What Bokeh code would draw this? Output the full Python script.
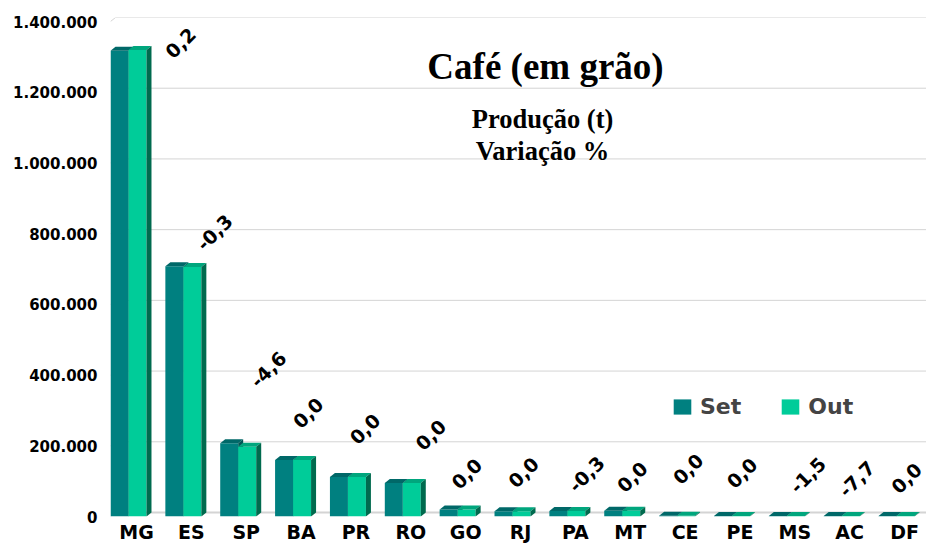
import math
from bokeh.plotting import figure
from bokeh.models import FixedTicker, Range1d, Label, Legend, LegendItem
from bokeh.embed import file_html
from bokeh.resources import INLINE
from bokeh.core.properties import value

# ---------------- data ----------------
states = ["MG", "ES", "SP", "BA", "PR", "RO", "GO", "RJ", "PA", "MT", "CE", "PE", "MS", "AC", "DF"]
set_vals = [1317000, 707500, 207000, 160000, 112000, 95000, 19500, 14500, 15500, 16000, 1800, 1500, 1300, 1600, 1200]
out_vals = [1319600, 705400, 197500, 160000, 112000, 95000, 19500, 14500, 15450, 16000, 1800, 1500, 1280, 1480, 1200]
var_labels = ["0,2", "-0,3", "-4,6", "0,0", "0,0", "0,0", "0,0", "0,0", "-0,3", "0,0", "0,0", "0,0", "-1,5", "-7,7", "0,0"]
y_ticks = [0, 200000, 400000, 600000, 800000, 1000000, 1200000, 1400000]
series_names = ["Set", "Out"]
title_text = "Café (em grão)"
subtitle_lines = ["Produção (t)", "Variação %"]

# ---------------- style / layout ----------------
W, H = 926, 546
B_LEFT, B_TOP, B_BOTTOM = 110, 17, 30
FRAME_W = W - B_LEFT
FRAME_H = H - B_TOP - B_BOTTOM
PITCH = 54.86                       # px per category
DEPTH_X, DEPTH_Y = 5, 4             # 3D depth in px
x_start = -26 / PITCH
x_end = x_start + FRAME_W / PITCH
y_per_px = y_ticks[-1] / (FRAME_H - DEPTH_Y)
y_end = FRAME_H * y_per_px
d = DEPTH_Y * y_per_px
dx = DEPTH_X / PITCH

SET_FRONT, SET_TOP, SET_SIDE = "#008080", "#006868", "#005656"
OUT_FRONT, OUT_TOP, OUT_SIDE = "#00CC99", "#00A67D", "#006A4E"
GRID = "#D4D4D4"
FONT = "DejaVu Sans"

# label offsets (px) relative to top of the taller bar
lab_dx = [44, 23, 22, 7, 9, 20, 1, 3, 11, 2, 3, 2, 13, 7, 2]
lab_dy = [-7, -34, -74, -47, -48, -48, -36, -39, -37, -34, -47, -43, -41, -37, -38]


def px2x(px):  # canvas px -> data x
    return x_start + (px - B_LEFT) / PITCH


def px2y(py):  # canvas px -> data y
    return (B_TOP + FRAME_H - py) * y_per_px


p = figure(width=W, height=H, x_range=Range1d(x_start, x_end), y_range=Range1d(0, y_end),
           output_backend="svg", toolbar_location=None,
           min_border_left=B_LEFT, min_border_right=0, min_border_top=B_TOP, min_border_bottom=B_BOTTOM,
           background_fill_color="white", border_fill_color="white", outline_line_color=None)
p.xgrid.visible = False
p.ygrid.visible = False

# back-wall gridlines
n = len(y_ticks)
p.segment(x0=[x_start + dx] * n, y0=[t + d for t in y_ticks], x1=[x_end] * n, y1=[t + d for t in y_ticks],
          line_color=GRID, line_width=[2 if t == 0 else 1 for t in y_ticks])
p.segment(x0=[x_start] * n, y0=y_ticks, x1=[x_start + dx] * n, y1=[t + d for t in y_ticks],
          line_color=GRID, line_width=1)

idx = list(range(len(states)))
BW = 0.328
offsets = [-0.474, -0.474 + BW]
renderers = []
for vals, off, (cf, ct, cs) in zip([set_vals, out_vals], offsets,
                                    [(SET_FRONT, SET_TOP, SET_SIDE), (OUT_FRONT, OUT_TOP, OUT_SIDE)]):
    x0 = [i + off for i in idx]
    x1 = [i + off + BW for i in idx]
    r = p.quad(left=x0, right=x1, bottom=[0] * len(idx), top=vals, fill_color=cf, line_color=None)
    renderers.append(r)
    p.patches(xs=[[a, b, b + dx, a + dx] for a, b in zip(x0, x1)],
              ys=[[v, v, v + d, v + d] for v in vals], fill_color=ct, line_color=None)
    p.patches(xs=[[b, b + dx, b + dx, b] for b in x1],
              ys=[[0, d, v + d, v] for v in vals], fill_color=cs, line_color=None)

# variation labels
tops = [max(a, b) for a, b in zip(set_vals, out_vals)]
p.text(x=idx, y=tops, text=var_labels, angle=math.pi / 4, x_offset=lab_dx, y_offset=lab_dy,
       text_align="center", text_baseline="middle", text_font=value(FONT), text_font_style="bold",
       text_font_size="19px", text_color="black")

# titles
p.add_layout(Label(x=px2x(545), y=px2y(66), text=title_text, text_align="center", text_baseline="alphabetic",
                   text_font="Liberation Serif", text_font_style="bold", text_font_size="37px", text_color="black"))
for line, base in zip(subtitle_lines, [118, 150]):
    p.add_layout(Label(x=px2x(542), y=px2y(base), text=line, text_align="center", text_baseline="alphabetic",
                       text_font="Liberation Serif", text_font_style="bold", text_font_size="26.5px",
                       text_color="black"))

# axes
p.yaxis.ticker = FixedTicker(ticks=y_ticks)
p.yaxis.major_label_overrides = {t: f"{t:,}".replace(",", ".") for t in y_ticks}
p.xaxis.ticker = FixedTicker(ticks=idx)
p.xaxis.major_label_overrides = {i: s for i, s in zip(idx, states)}
for ax in (p.xaxis, p.yaxis):
    ax.axis_line_color = None
    ax.major_tick_line_color = None
    ax.minor_tick_line_color = None
    ax.major_tick_out = 0
    ax.major_tick_in = 0
    ax.minor_tick_out = 0
    ax.minor_tick_in = 0
    ax.axis_label = None
    ax.axis_label_standoff = 0
    ax.major_label_text_font = FONT
    ax.major_label_text_font_style = "bold"
    ax.major_label_text_color = "black"
p.yaxis.major_label_text_font_size = "15px"
p.yaxis.major_label_standoff = 13
p.xaxis.major_label_text_font_size = "19px"
p.xaxis.major_label_standoff = 4

legend = Legend(items=[LegendItem(label=series_names[0], renderers=[renderers[0]]),
                       LegendItem(label=series_names[1], renderers=[renderers[1]])],
                orientation="horizontal", location=(561, 97), glyph_width=22, glyph_height=19,
                label_standoff=7, spacing=38, padding=0, margin=0, border_line_color=None,
                background_fill_alpha=0, label_text_font=FONT, label_text_font_style="bold",
                label_text_font_size="22px", label_height=19)
p.add_layout(legend)

open("out.html", "w").write(file_html(p, INLINE))
